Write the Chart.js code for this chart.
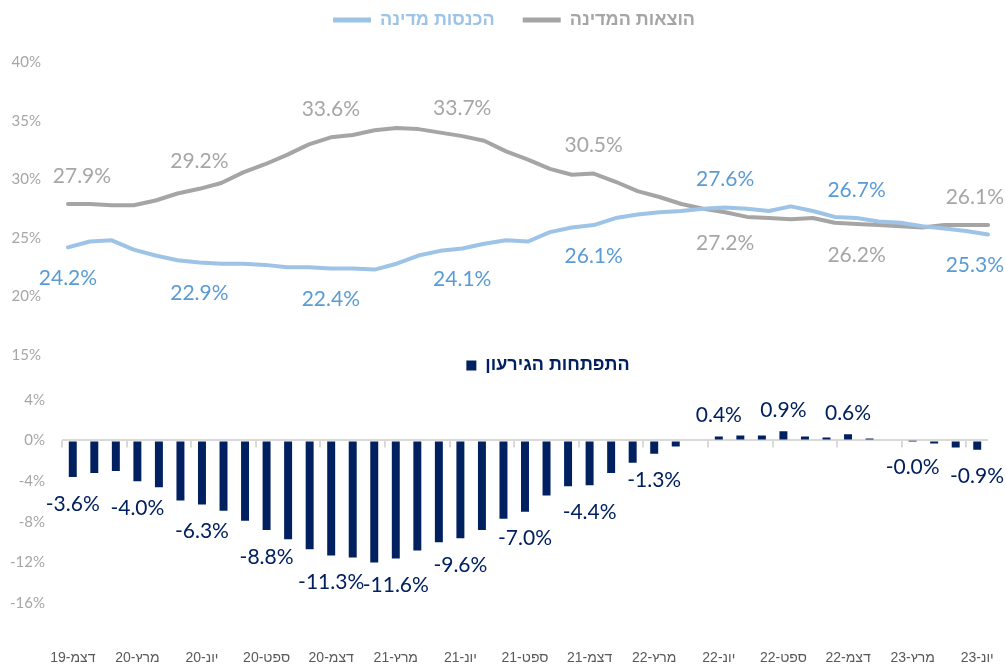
<!DOCTYPE html>
<html>
<head>
<meta charset="utf-8">
<script src="https://cdn.jsdelivr.net/npm/chart.js@4/dist/chart.umd.min.js"></script>
<style>
  html, body { margin: 0; padding: 0; background: #fff; }
  #wrap { position: relative; width: 1006px; height: 666px; overflow: hidden; }
  #bottomChart { position: absolute; left: 0; top: 340px; }
  #topChart { position: absolute; left: 0; top: 0; }
</style>
</head>
<body>
<div id="wrap">
  <canvas id="bottomChart" width="1006" height="330"></canvas>
  <canvas id="topChart" width="1006" height="380"></canvas>
</div>
<script>
// months, Dec-19 .. Jun-23
const months = [
  'דצמ-19',
  'ינו-20', 'פבר-20', 'מרץ-20', 'אפר-20', 'מאי-20', 'יונ-20', 'יול-20', 'אוג-20', 'ספט-20', 'אוק-20', 'נוב-20', 'דצמ-20',
  'ינו-21', 'פבר-21', 'מרץ-21', 'אפר-21', 'מאי-21', 'יונ-21', 'יול-21', 'אוג-21', 'ספט-21', 'אוק-21', 'נוב-21', 'דצמ-21',
  'ינו-22', 'פבר-22', 'מרץ-22', 'אפר-22', 'מאי-22', 'יונ-22', 'יול-22', 'אוג-22', 'ספט-22', 'אוק-22', 'נוב-22', 'דצמ-22',
  'ינו-23', 'פבר-23', 'מרץ-23', 'אפר-23', 'מאי-23', 'יונ-23'
];

// % of GDP
const expenditure = [
  27.9, 27.9, 27.8, 27.8, 28.2, 28.8, 29.2, 29.7, 30.6, 31.3,
  32.1, 33.0, 33.6, 33.8, 34.2, 34.4, 34.3, 34.0, 33.7, 33.3,
  32.4, 31.7, 30.9, 30.4, 30.5, 29.8, 29.0, 28.5, 27.9, 27.5,
  27.2, 26.8, 26.7, 26.6, 26.7, 26.3, 26.2, 26.1, 26.0, 25.9,
  26.1, 26.1, 26.1
];
const income = [
  24.2, 24.7, 24.8, 24.0, 23.5, 23.1, 22.9, 22.8, 22.8, 22.7,
  22.5, 22.5, 22.4, 22.4, 22.3, 22.8, 23.5, 23.9, 24.1, 24.5,
  24.8, 24.7, 25.5, 25.9, 26.1, 26.7, 27.0, 27.2, 27.3, 27.5,
  27.6, 27.5, 27.3, 27.7, 27.3, 26.8, 26.7, 26.4, 26.3, 26.0,
  25.8, 25.6, 25.3
];
const deficit = [
  -3.6, -3.2, -3.0, -4.0, -4.6, -5.9, -6.3, -6.9, -7.9, -8.8,
  -9.7, -10.7, -11.3, -11.5, -12.0, -11.6, -10.8, -10.0, -9.6, -8.8,
  -7.7, -7.0, -5.4, -4.5, -4.4, -3.2, -2.2, -1.3, -0.6, 0.0,
  0.4, 0.5, 0.5, 0.9, 0.4, 0.3, 0.6, 0.2, 0.1, -0.02,
  -0.3, -0.7, -0.9
];

const topTicks = [40, 35, 30, 25, 20, 15];
const bottomTicks = [4, 0, -4, -8, -12, -16];

const NUM_FONT = 'Lato, "Liberation Sans", sans-serif';
const HEB_FONT = '"Liberation Sans", "DejaVu Sans", sans-serif';

// draws "27.9%" style labels on every n-th point
const valueLabels = {
  id: 'valueLabels',
  afterDatasetsDraw(chart) {
    const ctx = chart.ctx;
    chart.data.datasets.forEach((ds, di) => {
      if (!ds.labelEvery) return;
      const meta = chart.getDatasetMeta(di);
      ctx.save();
      ctx.font = '21px ' + NUM_FONT;
      ctx.fillStyle = ds.labelColor;
      ctx.textAlign = 'center';
      ctx.textBaseline = 'middle';
      ctx.direction = 'ltr';
      meta.data.forEach((el, i) => {
        if (i % ds.labelEvery !== 0) return;
        const v = ds.data[i];
        const txt = v.toFixed(1) + '%';
        let y;
        if (meta.type === 'bar') {
          y = v < 0 ? el.y + 27 : el.y - 21;
        } else {
          const below = ds.labelBelow !== (ds.flipAt || []).includes(i);
          y = below ? el.y + 31 : el.y - 28;
        }
        const w = ctx.measureText(txt).width;
        let x = el.x + (i === 0 ? (ds.firstLabelShift || 0) : 0);
        x = Math.min(Math.max(x, w / 2 + 2), chart.width - w / 2 - 2);
        ctx.fillText(txt, x, y);
      });
      ctx.restore();
    });
  }
};

// small tick marks under the zero line, every 3 months
const zeroTicks = {
  id: 'zeroTicks',
  beforeDatasetsDraw(chart) {
    const xs = chart.scales.x, ys = chart.scales.y;
    const y0 = ys.getPixelForValue(0);
    const step = xs.getPixelForValue(1) - xs.getPixelForValue(0);
    const ctx = chart.ctx;
    ctx.save();
    ctx.strokeStyle = '#d9d9d9';
    ctx.lineWidth = 2;
    for (let i = 0; i < months.length; i += 3) {
      const px = Math.round(xs.getPixelForValue(i) - step / 2);
      ctx.beginPath();
      ctx.moveTo(px, y0);
      ctx.lineTo(px, y0 + 7);
      ctx.stroke();
    }
    ctx.restore();
  }
};

// nudge the legend sideways, like the hand-placed legends in the original
const legendShift = {
  id: 'legendShift',
  afterLayout(chart, args, opts) {
    if (chart.legend && opts.dx) {
      chart.legend.left += opts.dx;
      chart.legend.right += opts.dx;
    }
  }
};

function coloredLegend(chart) {
  const items = Chart.defaults.plugins.legend.labels.generateLabels(chart);
  return items.map((it) => {
    const ds = chart.data.datasets[it.datasetIndex];
    it.fontColor = ds.legendColor;
    it.lineWidth = 0;
    return it;
  });
}

Chart.defaults.font.family = NUM_FONT;

new Chart(document.getElementById('topChart'), {
  type: 'line',
  data: {
    labels: months,
    datasets: [
      {
        label: 'הכנסות מדינה',
        data: income,
        borderColor: '#9dc3e6',
        backgroundColor: '#9dc3e6',
        legendColor: '#9dc3e6',
        labelColor: '#5b9bd5',
        labelEvery: 6,
        labelBelow: true,
        flipAt: [30, 36],
        borderWidth: 4,
        pointRadius: 0,
        tension: 0,
        borderJoinStyle: 'round',
        borderCapStyle: 'round'
      },
      {
        label: 'הוצאות המדינה',
        data: expenditure,
        borderColor: '#a5a5a5',
        backgroundColor: '#a5a5a5',
        legendColor: '#a5a5a5',
        labelColor: '#a6a6a6',
        labelEvery: 6,
        labelBelow: false,
        flipAt: [30, 36],
        firstLabelShift: 14,
        borderWidth: 4,
        pointRadius: 0,
        tension: 0,
        borderJoinStyle: 'round',
        borderCapStyle: 'round'
      }
    ]
  },
  options: {
    responsive: false,
    animation: false,
    layout: { padding: { top: -17, right: 7, bottom: 4, left: 0 } },
    plugins: {
      legendShift: { dx: -14 },
      legend: {
        position: 'top',
        fullSize: false,
        labels: {
          boxWidth: 38,
          boxHeight: 5,
          padding: 28,
          font: { family: HEB_FONT, size: 18, weight: 'bold' },
          generateLabels: coloredLegend
        }
      },
      tooltip: { enabled: false }
    },
    scales: {
      x: { display: false, offset: true },
      y: {
        min: 15,
        max: 42,
        afterFit: (s) => { s.width = 57; },
        afterBuildTicks: (s) => { s.ticks = topTicks.map((v) => ({ value: v })); },
        grid: { display: false, drawTicks: false },
        border: { display: false },
        ticks: {
          padding: 16,
          color: '#a6a6a6',
          font: { size: 15 },
          callback: (v) => v + '%'
        }
      }
    }
  },
  plugins: [legendShift, valueLabels]
});

new Chart(document.getElementById('bottomChart'), {
  type: 'bar',
  data: {
    labels: months,
    datasets: [
      {
        label: 'התפתחות הגירעון',
        data: deficit,
        backgroundColor: '#002060',
        legendColor: '#002060',
        labelColor: '#002060',
        labelEvery: 3,
        barPercentage: 0.37,
        categoryPercentage: 1
      }
    ]
  },
  options: {
    responsive: false,
    animation: false,
    layout: { padding: { top: 0, right: 18, bottom: 0, left: 0 } },
    plugins: {
      legendShift: { dx: 23 },
      legend: {
        position: 'top',
        fullSize: false,
        labels: {
          boxWidth: 10,
          boxHeight: 10,
          padding: 16.5,
          font: { family: HEB_FONT, size: 18, weight: 'bold' },
          generateLabels: coloredLegend
        }
      },
      tooltip: { enabled: false }
    },
    scales: {
      x: {
        afterFit: (s) => { s.height = 18; },
        grid: { display: false, drawTicks: false },
        border: { display: false },
        ticks: {
          autoSkip: false,
          maxRotation: 0,
          padding: 6,
          color: '#595959',
          font: { family: HEB_FONT, size: 14 },
          callback: function (v, i) {
            return i % 3 === 0 ? '\u200F' + this.getLabelForValue(v) : '';
          }
        }
      },
      y: {
        min: -20,
        max: 5.5,
        afterFit: (s) => { s.width = 62; },
        afterBuildTicks: (s) => { s.ticks = bottomTicks.map((v) => ({ value: v })); },
        grid: {
          drawTicks: false,
          lineWidth: 2,
          color: (c) => (c.tick && c.tick.value === 0 ? '#d9d9d9' : 'rgba(0,0,0,0)')
        },
        border: { display: false },
        ticks: {
          padding: 17,
          color: '#a6a6a6',
          font: { size: 15 },
          callback: (v) => v + '%'
        }
      }
    }
  },
  plugins: [legendShift, zeroTicks, valueLabels]
});
</script>
</body>
</html>
